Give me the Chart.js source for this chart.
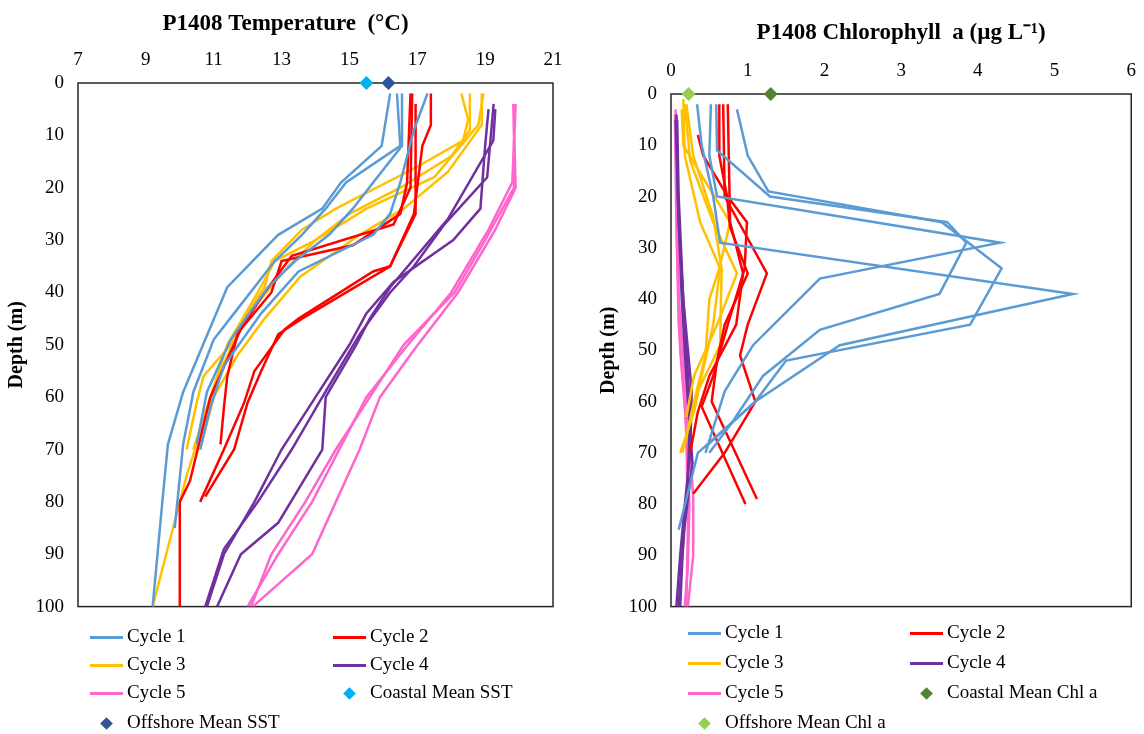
<!DOCTYPE html>
<html>
<head>
<meta charset="utf-8">
<script src="https://cdn.jsdelivr.net/npm/chart.js@4.4.1/dist/chart.umd.min.js"></script>
<style>
  body { margin: 0; background: #fff; width: 1144px; height: 734px; position: relative; overflow: hidden;
         font-family: "Liberation Serif", "Times New Roman", serif; }
  canvas { position: absolute; top: 0; }
  .leg { position: absolute; font-size: 19px; color: #000; white-space: nowrap; line-height: 22px; }
  .sw { position: absolute; height: 0; border-top: 3px solid; width: 33px; }
  .mk { position: absolute; width: 9px; height: 9px; transform: rotate(45deg); }
</style>
</head>
<body>
<canvas id="temp-chart" width="575" height="632" style="left:0px;width:575px;height:632px"></canvas>
<canvas id="chl-chart" width="568" height="632" style="left:580px;width:568px;height:632px"></canvas>
<div id="legends"></div>
<script>
// series styling shared by both panels
const cycleNames = ["Cycle 1", "Cycle 2", "Cycle 3", "Cycle 4", "Cycle 5"];
const cycleColors = ["#5B9BD5", "#FF0000", "#FFC000", "#7030A0", "#FF66CC"];

// temperature casts per cycle, [depth m, temp °C]
const tempCycle1 = [
  [[2,16.2],[12,15.95],[19,14.75],[24,14.2],[29,12.9],[39,11.4],[49,10.75],[59,10.1],[69,9.65],[79,9.5],[100,9.2]],
  [[2,16.4],[12,16.5],[19,14.9],[24,14.3],[29,13.6],[34,12.8],[39,12.2],[44,11.6],[49,11.0],[59,10.4],[69,10.1],[85,9.85]],
  [[2,16.55],[12,16.55],[19,15.7],[24,15.1],[29,14.4],[34,13.4],[39,12.6],[49,11.5],[59,10.8],[69,10.5]],
  [[2,17.3],[9,16.9],[19,16.5],[25,16.2],[29,15.7],[36,13.5],[44,12.4],[54,11.3],[62,10.9],[70,10.6]]
];
const tempCycle2 = [
  [[2,16.8],[19,16.7],[25,16.5],[31,15.1],[34,13.0],[40,12.7],[47,11.8],[60,10.9],[76,10.3],[80,10.0],[100,10.0]],
  [[4,16.95],[25,16.95],[35,16.2],[36,15.7],[45,13.5],[47,13.1],[55,12.2],[61,11.9],[70,11.3],[80,10.6]],
  [[2,17.4],[8,17.4],[12,17.15],[25,16.9],[35,16.2],[45,13.6],[48,12.9],[55,12.4],[61,12.0],[70,11.6],[79,10.75]],
  [[2,16.85],[20,16.8],[27,16.3],[33,13.3],[40,12.5],[48,11.7],[56,11.4],[62,11.3],[69,11.2]]
];
const tempCycle3 = [
  [[2,18.3],[7,18.5],[11,18.35],[16,17.0],[24,14.6],[28,13.6],[34,12.7],[39,12.5],[44,12.0],[50,11.5],[56,10.7],[61,10.5],[70,10.2]],
  [[2,18.9],[8,18.9],[17,17.9],[24,16.6],[29,15.3],[37,13.55],[45,12.5],[52,11.7],[60,11.0],[70,10.6]],
  [[2,18.55],[9,18.55],[14,18.0],[20,16.5],[25,15.0],[30,14.0],[35,13.2],[45,11.9],[55,11.2],[63,10.8],[75,10.2],[85,9.8],[100,9.2]],
  [[2,18.95],[8,18.8],[18,17.5],[24,15.5],[30,14.0],[34,12.8],[40,12.3],[50,11.4],[60,10.9],[70,10.4]]
];
const tempCycle4 = [
  [[5,19.1],[12,19.0],[24,18.86],[30,18.06],[38,16.3],[44,15.5],[50,15.0],[60,14.0],[70,13.0],[80,12.2],[90,11.3],[100,10.8]],
  [[4,19.25],[18,19.06],[27,17.8],[35,16.9],[40,16.2],[48,15.3],[60,14.2],[70,13.3],[80,12.3],[89,11.3],[100,10.75]],
  [[5,19.3],[11,19.24],[26,17.9],[39,16.2],[45,15.6],[50,15.2],[60,14.3],[70,14.2],[84,12.9],[90,11.8],[100,11.1]]
];
const tempCycle5 = [
  [[4,19.83],[20,19.9],[28,19.3],[40,18.2],[51,16.9],[60,15.9],[70,15.3],[80,14.6],[90,13.9],[100,12.15]],
  [[4,19.9],[19,19.8],[28,19.1],[40,18.0],[51,16.6],[60,15.5],[70,14.7],[80,13.9],[90,12.9],[100,12.0]],
  [[4,19.85],[20,19.85],[30,19.0],[40,18.1],[50,16.6],[60,15.6],[70,14.6],[80,13.7],[90,12.7],[100,12.1]]
];

// chlorophyll a casts per cycle, [depth m, chl µg/L]
const chlCycle1 = [
  [[3,0.86],[12,1.0],[19,1.27],[25,3.53],[34,4.31],[45,3.9],[52,1.5],[60,1.1],[69,0.44]],
  [[2,0.59],[11,0.6],[20,1.29],[25,3.6],[29,3.85],[39,3.5],[46,1.94],[55,1.2],[64,0.8],[70,0.5]],
  [[2,0.52],[12,0.5],[20,0.6],[29,4.29],[36,1.94],[49,1.07],[58,0.7],[70,0.45]],
  [[2,0.34],[10,0.4],[20,0.55],[29,0.64],[39,5.24],[49,2.2],[60,1.1],[70,0.35],[85,0.1]]
];
const chlCycle2 = [
  [[8,0.35],[12,0.42],[20,0.74],[25,0.99],[34,0.96],[45,0.74],[55,0.55],[61,0.4],[80,0.97]],
  [[2,0.63],[12,0.63],[20,0.73],[26,0.77],[35,1.0],[45,0.7],[52,0.6],[60,0.53],[79,1.12]],
  [[2,0.68],[20,0.7],[35,1.25],[45,1.0],[51,0.9],[60,1.1],[70,0.7],[78,0.29]],
  [[2,0.74],[25,0.77],[35,0.94],[45,0.85],[55,0.5],[62,0.35],[70,0.25]]
];
const chlCycle3 = [
  [[1,0.16],[12,0.18],[25,0.38],[34,0.64],[45,0.55],[55,0.4],[62,0.3],[70,0.12]],
  [[2,0.2],[12,0.29],[24,0.55],[34,0.66],[49,0.64],[58,0.35],[68,0.18]],
  [[2,0.18],[13,0.25],[25,0.55],[35,0.86],[45,0.6],[55,0.3],[63,0.2]],
  [[3,0.14],[10,0.16],[25,0.77],[34,0.63],[40,0.5],[51,0.45],[60,0.3],[70,0.15]]
];
const chlCycle4 = [
  [[5,0.08],[20,0.1],[40,0.16],[58,0.27],[70,0.25],[80,0.18],[90,0.12],[100,0.07]],
  [[4,0.07],[20,0.09],[40,0.14],[60,0.22],[72,0.28],[85,0.17],[100,0.1]],
  [[5,0.06],[25,0.1],[45,0.18],[62,0.25],[75,0.22],[90,0.15],[100,0.12]]
];
const chlCycle5 = [
  [[4,0.07],[20,0.08],[40,0.1],[58,0.2],[79,0.29],[90,0.29],[100,0.22]],
  [[4,0.05],[25,0.07],[45,0.1],[60,0.18],[80,0.24],[92,0.22],[100,0.18]],
  [[3,0.06],[30,0.08],[50,0.12],[65,0.2],[85,0.22],[100,0.2]]
];

// surface means, plotted at depth 0
const sstMarkerNames = ["Coastal Mean SST", "Offshore Mean SST"];
const sstMarkerValues = [15.5, 16.15];
const chlMarkerNames = ["Coastal Mean Chl a", "Offshore Mean Chl a"];
const chlMarkerValues = [1.3, 0.23];
const markerColors = [["#00B0F0", "#2F5597"], ["#548235", "#92D050"]];

const depthTicks = [0, 100, 10];
const tempTicks = [7, 21, 2];
const chlTicks = [0, 6, 1];

const FONT = '"Liberation Serif", "Times New Roman", serif';

function castDatasets(cycles) {
    const sets = [];
    cycles.forEach((casts, i) => {
        casts.forEach(cast => {
            sets.push({
                label: cycleNames[i],
                data: cast.map(p => ({x: p[1], y: p[0]})),
                showLine: true,
                borderColor: cycleColors[i],
                borderWidth: 2.5,
                pointRadius: 0,
                tension: 0
            });
        });
    });
    return sets;
}

function markerDatasets(names, values, colors) {
    return names.map((n, i) => ({
        label: n,
        data: [{x: values[i], y: 0}],
        showLine: false,
        pointStyle: 'rectRot',
        pointRadius: 7,
        backgroundColor: colors[i],
        borderColor: colors[i],
        borderWidth: 0,
        clip: false
    }));
}

const frameAndTitle = {
    id: 'frameAndTitle',
    beforeDatasetsDraw(chart, args, opts) {
        const a = chart.chartArea;
        const ctx = chart.ctx;
        ctx.save();
        ctx.strokeStyle = '#262626';
        ctx.lineWidth = 1.5;
        ctx.strokeRect(a.left, a.top, a.right - a.left, a.bottom - a.top);
        ctx.fillStyle = '#000';
        ctx.font = 'bold 23px ' + FONT;
        ctx.textAlign = 'center';
        ctx.textBaseline = 'middle';
        ctx.fillText(opts.text, (a.left + a.right) / 2 + (opts.dx || 0), opts.y);
        ctx.restore();
    }
};

function buildProfileChart(id, cycles, mNames, mValues, mColors, xTicks, title, titleY, titleDx, yWidth, xHeight, pad, yTitlePad) {
    const ctx = document.getElementById(id).getContext('2d');
    return new Chart(ctx, {
        type: 'scatter',
        data: {datasets: markerDatasets(mNames, mValues, mColors).concat(castDatasets(cycles))},
        plugins: [frameAndTitle],
        options: {
            responsive: false,
            animation: false,
            layout: {padding: pad},
            plugins: {
                legend: {display: false},
                tooltip: {enabled: false},
                frameAndTitle: {text: title, y: titleY, dx: titleDx}
            },
            scales: {
                x: {
                    type: 'linear',
                    position: 'top',
                    min: xTicks[0], max: xTicks[1],
                    grid: {display: false, drawTicks: false},
                    border: {display: false},
                    ticks: {stepSize: xTicks[2], color: '#000', padding: 12, font: {family: FONT, size: 19}},
                    afterFit(s) { s.height = xHeight; }
                },
                y: {
                    type: 'linear',
                    reverse: true,
                    min: depthTicks[0], max: depthTicks[1],
                    grid: {display: false, drawTicks: false},
                    border: {display: false},
                    ticks: {stepSize: depthTicks[2], color: '#000', padding: 14, font: {family: FONT, size: 19}},
                    title: {display: true, text: 'Depth (m)', color: '#000', padding: {top: yTitlePad, bottom: 0},
                            font: {family: FONT, size: 20, weight: 'bold'}},
                    afterFit(s) { s.width = yWidth; }
                }
            }
        }
    });
}

function buildLegend(left, rowYs, colX, mNames, colors) {
    const box = document.getElementById('legends');
    const entries = cycleNames.map((n, i) => ({name: n, color: cycleColors[i], line: true}));
    entries.push({name: mNames[0], color: colors[0], line: false});
    entries.push({name: mNames[1], color: colors[1], line: false});
    entries.forEach((e, i) => {
        const col = i % 2, row = Math.floor(i / 2);
        const x = left + colX[col], y = rowYs[row];
        const g = document.createElement('div');
        if (e.line) {
            g.className = 'sw';
            g.style.left = x + 'px';
            g.style.top = (y - 1.5) + 'px';
            g.style.borderColor = e.color;
        } else {
            g.className = 'mk';
            g.style.left = (x + 12) + 'px';
            g.style.top = (y - 4.5) + 'px';
            g.style.background = e.color;
        }
        box.appendChild(g);
        const t = document.createElement('div');
        t.className = 'leg';
        t.textContent = e.name;
        t.style.left = (x + 37) + 'px';
        t.style.top = (y - 12) + 'px';
        box.appendChild(t);
    });
}

function initPage() {
    buildProfileChart('temp-chart', [tempCycle1, tempCycle2, tempCycle3, tempCycle4, tempCycle5],
        sstMarkerNames, sstMarkerValues, markerColors[0], tempTicks,
        'P1408 Temperature  (°C)', 24, -30, 78, 83, {top: 0, left: 0, right: 22, bottom: 6}, 5);
    buildProfileChart('chl-chart', [chlCycle1, chlCycle2, chlCycle3, chlCycle4, chlCycle5],
        chlMarkerNames, chlMarkerValues, markerColors[1], chlTicks,
        'P1408 Chlorophyll  a (µg L⁻¹)', 33, 0, 91, 94, {top: 0, left: 0, right: 9, bottom: 7}, 17);
    buildLegend(90, [637, 665, 693, 723], [0, 243], sstMarkerNames, markerColors[0]);
    buildLegend(688, [633, 663, 693, 723], [0, 222], chlMarkerNames, markerColors[1]);
}

document.addEventListener('DOMContentLoaded', initPage);
</script>
</body>
</html>
